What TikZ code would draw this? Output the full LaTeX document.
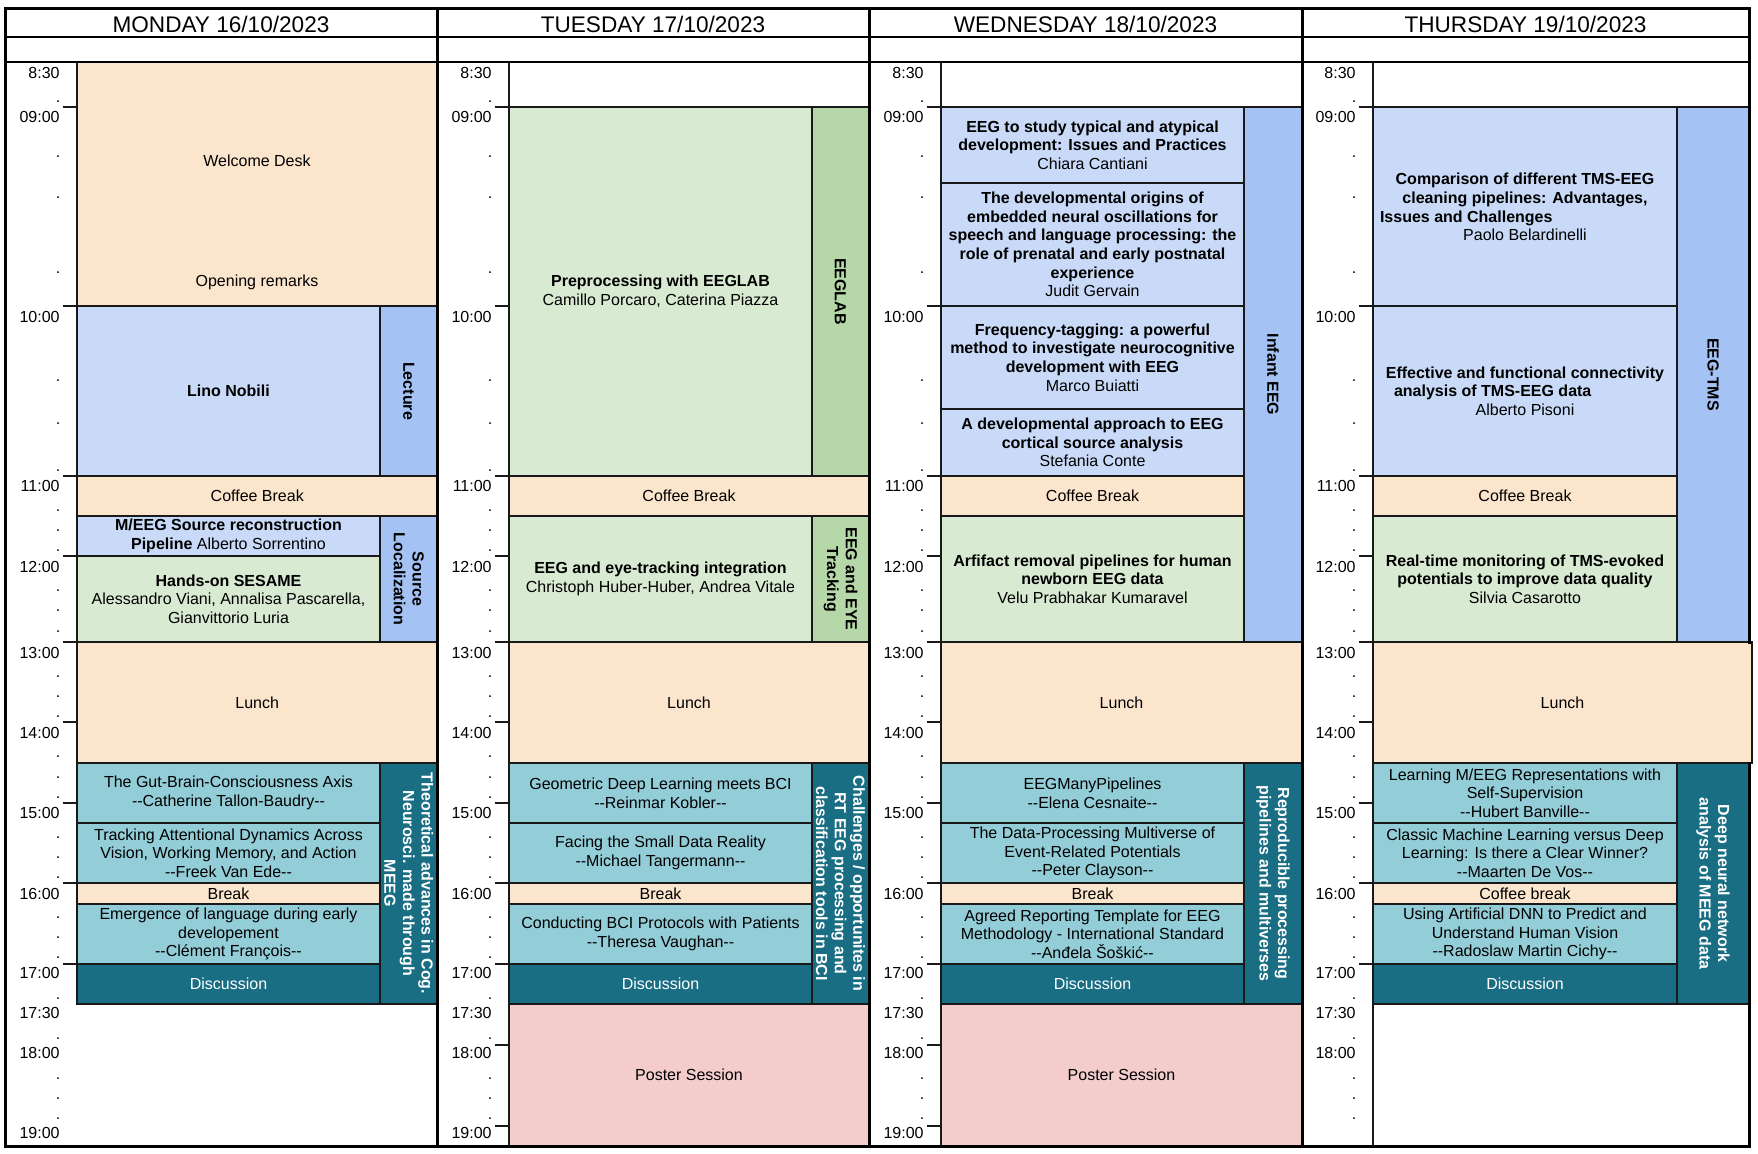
\documentclass[tikz,border=0pt]{standalone}
\usepackage{fontspec}
\setmainfont{Liberation Sans}
\definecolor{cpeach}{HTML}{FCE5CD}
\definecolor{clblue}{HTML}{C9DAF8}
\definecolor{csblue}{HTML}{A4C2F4}
\definecolor{clgreen}{HTML}{D9EAD3}
\definecolor{csgreen}{HTML}{B6D7A8}
\definecolor{clteal}{HTML}{93CDD8}
\definecolor{cdteal}{HTML}{1A6E84}
\definecolor{cpink}{HTML}{F4CCCC}

\begin{document}
\begin{tikzpicture}[x=0.5pt,y=-0.5pt,
    every node/.style={font=\fontsize{8}{9.35}\selectfont, align=center, inner sep=0pt},
    cell/.style={draw=black!90, line width=0.6pt},
    brk/.style={cell, fill=cpeach},
    lect/.style={cell, fill=clblue},
    lectside/.style={cell, fill=csblue},
    prac/.style={cell, fill=clgreen},
    pracside/.style={cell, fill=csgreen},
    talk/.style={cell, fill=clteal},
    disc/.style={cell, fill=cdteal},
    poster/.style={cell, fill=cpink},
    blank/.style={cell, fill=white},
    light/.style={text=white},
    side/.style={rotate=-90, font=\fontsize{8}{9.35}\selectfont\bfseries},
    day/.style={font=\fontsize{11.3}{13}\selectfont},
    hour/.style={anchor=east},
    frame/.style={line width=1.5pt, line cap=rect}]
    \useasboundingbox (0,0) rectangle (1758,1153);

    % headers
    \node[day] (mon-head) at (221,24) {MONDAY 16/10/2023};
    \node[day] (tue-head) at (653,24) {TUESDAY 17/10/2023};
    \node[day] (wed-head) at (1085.5,24) {WEDNESDAY 18/10/2023};
    \node[day] (thu-head) at (1525.5,24) {THURSDAY 19/10/2023};

    % monday
    \draw[brk] (77,62) rectangle (437.5,306);
    \node (mon-welcome) at (257,161) {Welcome Desk};
    \node (mon-opening) at (257,282) {Opening remarks};
    \draw[lect] (77,306) rectangle node (mon-nobili) {\textbf{Lino Nobili}} (380,476);
    \draw[lectside] (380,306) rectangle node[side] (mon-lecture) {Lecture} (437.5,476);
    \draw[brk] (77,476) rectangle node (mon-coffee) {Coffee Break} (437.5,516);
    \draw[lect] (77,516) rectangle node (mon-source) {\textbf{M/EEG Source reconstruction}\\\textbf{Pipeline} Alberto Sorrentino} (380,556);
    \draw[prac] (77,556) rectangle node (mon-sesame) {\textbf{Hands-on SESAME}\\Alessandro Viani, Annalisa Pascarella,\\Gianvittorio Luria} (380,642);
    \draw[lectside] (380,516) rectangle node[side] (mon-srcloc) {Source\\Localization} (437.5,642);
    \draw[brk] (77,642) rectangle node (mon-lunch) {Lunch} (437.5,763);
    \draw[talk] (77,763) rectangle node (mon-gut) {The Gut-Brain-Consciousness Axis\\-{}-Catherine Tallon-Baudry-{}-} (380,823);
    \draw[talk] (77,823) rectangle node (mon-track) {Tracking Attentional Dynamics Across\\Vision, Working Memory, and Action\\-{}-Freek Van Ede-{}-} (380,883);
    \draw[brk] (77,883) rectangle node (mon-break) {Break} (380,904);
    \draw[talk] (77,904) rectangle node (mon-lang) {Emergence of language during early\\developement\\-{}-Clément François-{}-} (380,964);
    \draw[disc] (77,964) rectangle node[light] (mon-disc) {Discussion} (380,1004);
    \draw[disc] (380,763) rectangle node[side,light] (mon-theory) {Theoretical advances in Cog.\\Neurosci. made through\\MEEG} (437.5,1004);

    % tuesday
    \draw[blank] (509,62) rectangle (869,107);
    \draw[prac] (509,107) rectangle node (tue-eeglab) {\textbf{Preprocessing with EEGLAB}\\Camillo Porcaro, Caterina Piazza} (812,476);
    \draw[pracside] (812,107) rectangle node[side] (tue-eeglabside) {EEGLAB} (869,476);
    \draw[brk] (509,476) rectangle node (tue-coffee) {Coffee Break} (869,516);
    \draw[prac] (509,516) rectangle node (tue-eye) {\textbf{EEG and eye-tracking integration}\\Christoph Huber-Huber, Andrea Vitale} (812,642);
    \draw[pracside] (812,516) rectangle node[side] (tue-eyeside) {EEG and EYE\\Tracking} (869,642);
    \draw[brk] (509,642) rectangle node (tue-lunch) {Lunch} (869,763);
    \draw[talk] (509,763) rectangle node (tue-geom) {Geometric Deep Learning meets BCI\\-{}-Reinmar Kobler-{}-} (812,823);
    \draw[talk] (509,823) rectangle node (tue-small) {Facing the Small Data Reality\\-{}-Michael Tangermann-{}-} (812,883);
    \draw[brk] (509,883) rectangle node (tue-break) {Break} (812,904);
    \draw[talk] (509,904) rectangle node (tue-bci) {Conducting BCI Protocols with Patients\\-{}-Theresa Vaughan-{}-} (812,964);
    \draw[disc] (509,964) rectangle node[light] (tue-disc) {Discussion} (812,1004);
    \draw[disc] (812,763) rectangle node[side,light] (tue-rt) {Challenges / opportunites in\\RT EEG processing and\\classification tools in BCI} (869,1004);
    \draw[poster] (509,1004) rectangle node (tue-poster) {Poster Session} (869,1146);

    % wednesday
    \draw[blank] (941,62) rectangle (1302,107);
    \draw[lect] (941,107) rectangle node (wed-typical) {\textbf{EEG to study typical and atypical}\\\textbf{development: Issues and Practices}\\Chiara Cantiani} (1244,183);
    \draw[lect] (941,183) rectangle node (wed-origins) {\textbf{The developmental origins of}\\\textbf{embedded neural oscillations for}\\\textbf{speech and language processing: the}\\\textbf{role of prenatal and early postnatal}\\\textbf{experience}\\Judit Gervain} (1244,306);
    \draw[lect] (941,306) rectangle node (wed-tagging) {\textbf{Frequency-tagging: a powerful}\\\textbf{method to investigate neurocognitive}\\\textbf{development with EEG}\\Marco Buiatti} (1244,409);
    \draw[lect] (941,409) rectangle node (wed-cortical) {\textbf{A developmental approach to EEG}\\\textbf{cortical source analysis}\\Stefania Conte} (1244,476);
    \draw[brk] (941,476) rectangle node (wed-coffee) {Coffee Break} (1244,516);
    \draw[prac] (941,516) rectangle node (wed-newborn) {\textbf{Arfifact removal pipelines for human}\\\textbf{newborn EEG data}\\Velu Prabhakar Kumaravel} (1244,642);
    \draw[lectside] (1244,107) rectangle node[side] (wed-infant) {Infant EEG} (1302,642);
    \draw[brk] (941,642) rectangle node (wed-lunch) {Lunch} (1302,763);
    \draw[talk] (941,763) rectangle node (wed-many) {EEGManyPipelines\\-{}-Elena Cesnaite-{}-} (1244,823);
    \draw[talk] (941,823) rectangle node (wed-multi) {The Data-Processing Multiverse of\\Event-Related Potentials\\-{}-Peter Clayson-{}-} (1244,883);
    \draw[brk] (941,883) rectangle node (wed-break) {Break} (1244,904);
    \draw[talk] (941,904) rectangle node (wed-report) {Agreed Reporting Template for EEG\\Methodology - International Standard\\-{}-Anđela Šoškić-{}-} (1244,964);
    \draw[disc] (941,964) rectangle node[light] (wed-disc) {Discussion} (1244,1004);
    \draw[disc] (1244,763) rectangle node[side,light] (wed-repro) {Reproducible processing\\pipelines and multiverses} (1302,1004);
    \draw[poster] (941,1004) rectangle node (wed-poster) {Poster Session} (1302,1146);

    % thursday
    \draw[blank] (1373,62) rectangle (1749,107);
    \draw[lect] (1373,107) rectangle (1677,306);
    \node (thu-clean) at (1525,207) {\textbf{Comparison of different TMS-EEG}\\\textbf{cleaning pipelines: Advantages,}\\\makebox[145pt][l]{\textbf{Issues and Challenges}}\\Paolo Belardinelli};
    \draw[lect] (1373,306) rectangle (1677,476);
    \node (thu-connect) at (1525,391) {\textbf{Effective and functional connectivity}\\\makebox[131pt][l]{\textbf{analysis of TMS-EEG data}}\\Alberto Pisoni};
    \draw[brk] (1373,476) rectangle node (thu-coffee) {Coffee Break} (1677,516);
    \draw[prac] (1373,516) rectangle node (thu-realtime) {\textbf{Real-time monitoring of TMS-evoked}\\\textbf{potentials to improve data quality}\\Silvia Casarotto} (1677,642);
    \draw[lectside] (1677,107) rectangle node[side] (thu-tms) {EEG-TMS} (1749,642);
    \draw[brk] (1373,642) rectangle node (thu-lunch) {Lunch} (1752,763);
    \draw[talk] (1373,763) rectangle node (thu-selfsup) {Learning M/EEG Representations with\\Self-Supervision\\-{}-Hubert Banville-{}-} (1677,823);
    \draw[talk] (1373,823) rectangle node (thu-classic) {Classic Machine Learning versus Deep\\Learning: Is there a Clear Winner?\\-{}-Maarten De Vos-{}-} (1677,883);
    \draw[brk] (1373,883) rectangle node (thu-break) {Coffee break} (1677,904);
    \draw[talk] (1373,904) rectangle node (thu-vision) {Using Artificial DNN to Predict and\\Understand Human Vision\\-{}-Radoslaw Martin Cichy-{}-} (1677,964);
    \draw[disc] (1373,964) rectangle node[light] (thu-disc) {Discussion} (1677,1004);
    \draw[disc] (1677,763) rectangle node[side,light] (thu-dnn) {Deep neural network\\analysis of MEEG data} (1749,1004);
    \draw[blank] (1373,1004) rectangle (1749,1146);

    % frame
    \draw[line width=0.8pt] (5,37) -- (1749,37) (5,62) -- (1749,62);
    \draw[frame] (5,8) -- (1749,8) (5,1146) -- (1749,1146);
    \draw[frame] (5,8) -- (5,1146) (437.5,8) -- (437.5,1146) (869,8) -- (869,1146) (1302,8) -- (1302,1146);
    \draw[frame] (1749,8) -- (1749,642) (1749,763) -- (1749,1146);

    % time axis
    \foreach \d/\T in {mon/77, tue/509, wed/941, thu/1373} {
        \foreach \y [count=\i] in {102,157,198,273,381,424,471,511,531,551,591,611,632,677,697,717,757,778,798,838,858,878,918,938,958,999,1039,1079,1099,1119}
            \node (\d-dot\i) at (\T-19,\y) {.};
        \foreach \t/\y [count=\i] in {8:30/73,09:00/117,10:00/317,11:00/486,12:00/567,13:00/653,14:00/733,15:00/813,16:00/894,17:00/973,17:30/1013,18:00/1053}
            \node[hour] (\d-h\i) at (\T-17,\y) {\t};
        \foreach \y in {107,306,476,556,642,722,803,883,964}
            \draw[cell] (\T-14,\y) -- (\T,\y);
    }
    \node[hour] (mon-h13) at (60,1133) {19:00};
    \node[hour] (tue-h13) at (492,1133) {19:00};
    \node[hour] (wed-h13) at (924,1133) {19:00};
    \draw[cell] (495,1045) -- (509,1045) (495,1126) -- (509,1126);
    \draw[cell] (927,1045) -- (941,1045) (927,1126) -- (941,1126);
\end{tikzpicture}
\end{document}
